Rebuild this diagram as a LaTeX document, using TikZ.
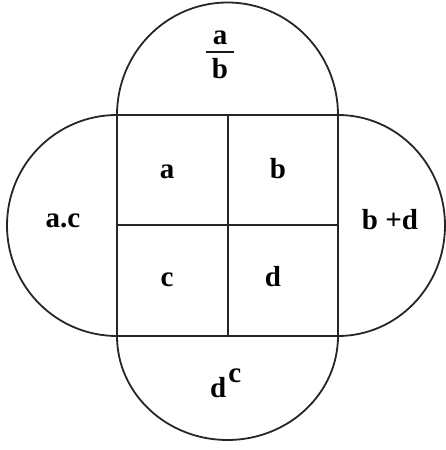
\documentclass[tikz,border=0pt]{standalone}
\usepackage{fontspec}
\setmainfont{Liberation Serif}
\begin{document}
\begin{tikzpicture}[x=1pt,y=1pt,
  outline/.style={line width=1.8pt, draw=black!85},
  lbl/.style={inner sep=0pt, anchor=base, font=\fontsize{29}{30}\selectfont\bfseries}]
\useasboundingbox (0,0) rectangle (446,450);
% corners of the square
\coordinate (TL) at (117,335);
\coordinate (TR) at (338,335);
\coordinate (BL) at (117,114);
\coordinate (BR) at (338,114);
\coordinate (TM) at (228,335);
\coordinate (BM) at (228,114);
\coordinate (LM) at (117,225);
\coordinate (RM) at (338,225);
% square and inner cross
\draw[outline] (TL) rectangle (BR);
\draw[outline] (TM) -- (BM);
\draw[outline] (LM) -- (RM);
% four rounded lobes
\draw[outline] (TL) arc[start angle=180, end angle=0, x radius=110.5, y radius=112.5];
\draw[outline] (BL) arc[start angle=180, end angle=360, x radius=110.5, y radius=104];
\draw[outline] (TL) arc[start angle=90, end angle=270, x radius=110, y radius=110.5];
\draw[outline] (TR) arc[start angle=90, end angle=-90, x radius=107, y radius=110.5];
% cell labels
\node[lbl] (ca) at (167,271) {a};
\node[lbl] (cb) at (278,271) {b};
\node[lbl] (cc) at (167,163) {c};
\node[lbl] (cd) at (273,163) {d};
% lobe labels
\node[lbl] (fa) at (220,405) {a};
\node[inner sep=0pt, fill=black!90, minimum width=28pt, minimum height=2.6pt] (fbar) at (220,398) {};
\node[lbl] (fb) at (220,371) {b};
\node[lbl] (ac) at (63,222) {a.c};
\node[lbl] (bd) at (390,220) {b +d};
\node[lbl, anchor=base west] (dc) at (210,52) {d\kern2pt\raisebox{15pt}{c}};
\end{tikzpicture}
\end{document}
